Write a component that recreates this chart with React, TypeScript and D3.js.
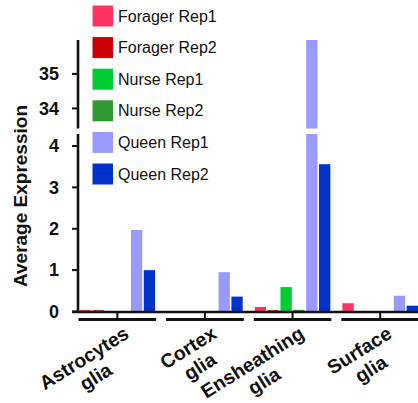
import React, {useEffect, useRef} from 'react';
import * as d3 from 'd3';

const groups = ['Astrocytes glia', 'Cortex glia', 'Ensheathing glia', 'Surface glia'];
const series = ['Forager Rep1', 'Forager Rep2', 'Nurse Rep1', 'Nurse Rep2', 'Queen Rep1', 'Queen Rep2'];
const colors = ['#ff3366', '#cc0000', '#00cc33', '#339933', '#9999ff', '#0033cc'];

// values per series, in group order
const foragerRep1 = [0.04, 0, 0.11, 0.2];
const foragerRep2 = [0.03, 0, 0.03, 0];
const nurseRep1 = [0, 0, 0.59, 0];
const nurseRep2 = [0, 0, 0.04, 0];
const queenRep1 = [1.97, 0.95, 35.98, 0.38];
const queenRep2 = [1.0, 0.36, 3.56, 0.14];
const values = [foragerRep1, foragerRep2, nurseRep1, nurseRep2, queenRep1, queenRep2];

const lowTicks = [0, 1, 2, 3, 4];
const highTicks = [34, 35];

const font = '"Liberation Sans", Arial, sans-serif';

const App = () => {
  const ref = useRef<SVGSVGElement>(null);

  useEffect(() => {
    const width = 418;
    const height = 403;
    const axisX = 78;
    const baseY = 311.5;

    const svg = d3.select(ref.current);
    svg.selectAll('*').remove();

    const x0 = d3.scaleBand().domain(groups).range([73.5, 424]).padding(0);
    const x1 = d3.scaleBand().domain(series).range([0, x0.bandwidth()])
      .paddingInner(0.12).paddingOuter(0.47);

    const yLow = d3.scaleLinear().domain([0, 4.29]).range([baseY, 134]);
    const yHigh = d3.scaleLinear().domain([33.42, 35.98]).range([128.5, 40]);
    const lowMax = yLow.domain()[1];

    const data = groups.flatMap((g, gi) => series.map((s, si) => ({g, s, si, v: values[si][gi]})));

    // bars
    const bars = svg.append('g');
    data.forEach(d => {
      const x = x0(d.g)! + x1(d.s)!;
      const vLow = Math.min(d.v, lowMax);
      if (vLow > 0) {
        bars.append('rect')
          .attr('x', x).attr('width', x1.bandwidth())
          .attr('y', yLow(vLow)).attr('height', baseY - yLow(vLow))
          .attr('fill', colors[d.si]);
      }
      if (d.v > lowMax) {
        const top = yHigh(Math.min(d.v, yHigh.domain()[1]));
        bars.append('rect')
          .attr('x', x).attr('width', x1.bandwidth())
          .attr('y', top).attr('height', yHigh.range()[0] - top)
          .attr('fill', colors[d.si]);
      }
    });

    // y axis, two segments
    const axis = svg.append('g').attr('stroke', '#111').attr('stroke-width', 2.6);
    axis.append('line').attr('x1', axisX).attr('x2', axisX)
      .attr('y1', yHigh.range()[0]).attr('y2', yHigh.range()[1]);
    axis.append('line').attr('x1', axisX).attr('x2', axisX)
      .attr('y1', baseY + 1).attr('y2', yLow.range()[1]);

    const tickLabel = (y: number, t: number) => {
      axis.append('line').attr('x1', axisX - 6).attr('x2', axisX)
        .attr('y1', y).attr('y2', y).attr('stroke-width', 2);
      svg.append('text').attr('x', 59).attr('y', y).attr('dy', '0.35em')
        .attr('text-anchor', 'end').attr('font-family', font)
        .attr('font-weight', 'bold').attr('font-size', 18).attr('fill', '#111')
        .text(t);
    };
    lowTicks.forEach(t => tickLabel(yLow(t), t));
    highTicks.forEach(t => tickLabel(yHigh(t), t));

    svg.append('text')
      .attr('transform', `translate(26.5,196) rotate(-90)`)
      .attr('text-anchor', 'middle').attr('font-family', font)
      .attr('font-weight', 'bold').attr('font-size', 19).attr('fill', '#111')
      .text('Average Expression');

    // x axis baseline, ticks and group brackets
    axis.append('line').attr('x1', 72).attr('x2', width)
      .attr('y1', baseY + 0.5).attr('y2', baseY + 0.5);
    groups.forEach(g => {
      const cx = x0(g)! + x0.bandwidth() / 2;
      axis.append('line').attr('x1', cx).attr('x2', cx)
        .attr('y1', baseY).attr('y2', 318).attr('stroke-width', 2);
      axis.append('line')
        .attr('x1', x0(g)! + 5).attr('x2', x0(g)! + x0.bandwidth() - 5)
        .attr('y1', 319.5).attr('y2', 319.5).attr('stroke-width', 3);

      const [l1, l2] = g.split(' ');
      const lab = svg.append('g')
        .attr('transform', `translate(${cx + 13},337) rotate(-32)`)
        .attr('font-family', font).attr('font-weight', 'bold')
        .attr('font-size', 19.5).attr('fill', '#111');
      const t1 = lab.append('text').attr('text-anchor', 'end').text(l1);
      const w = (t1.node() as SVGTextElement).getComputedTextLength();
      lab.append('text').attr('text-anchor', 'middle')
        .attr('x', -w / 2).attr('y', 22).text(l2);
    });

    // legend
    const ly = d3.scalePoint().domain(series).range([16, 174]);
    const legend = svg.append('g');
    series.forEach((s, i) => {
      legend.append('rect').attr('x', 92.5).attr('y', ly(s)! - 10.5)
        .attr('width', 20.5).attr('height', 21).attr('fill', colors[i]);
      legend.append('text').attr('x', 118).attr('y', ly(s)!).attr('dy', '0.35em')
        .attr('font-family', font).attr('font-size', 16).attr('fill', '#111')
        .text(s);
    });

    svg.attr('width', width).attr('height', height);
  }, []);

  return (
    <svg ref={ref} width={418} height={403}
      style={{position: 'absolute', left: 0, top: 0, background: '#fff'}}/>
  );
};

export default App;
